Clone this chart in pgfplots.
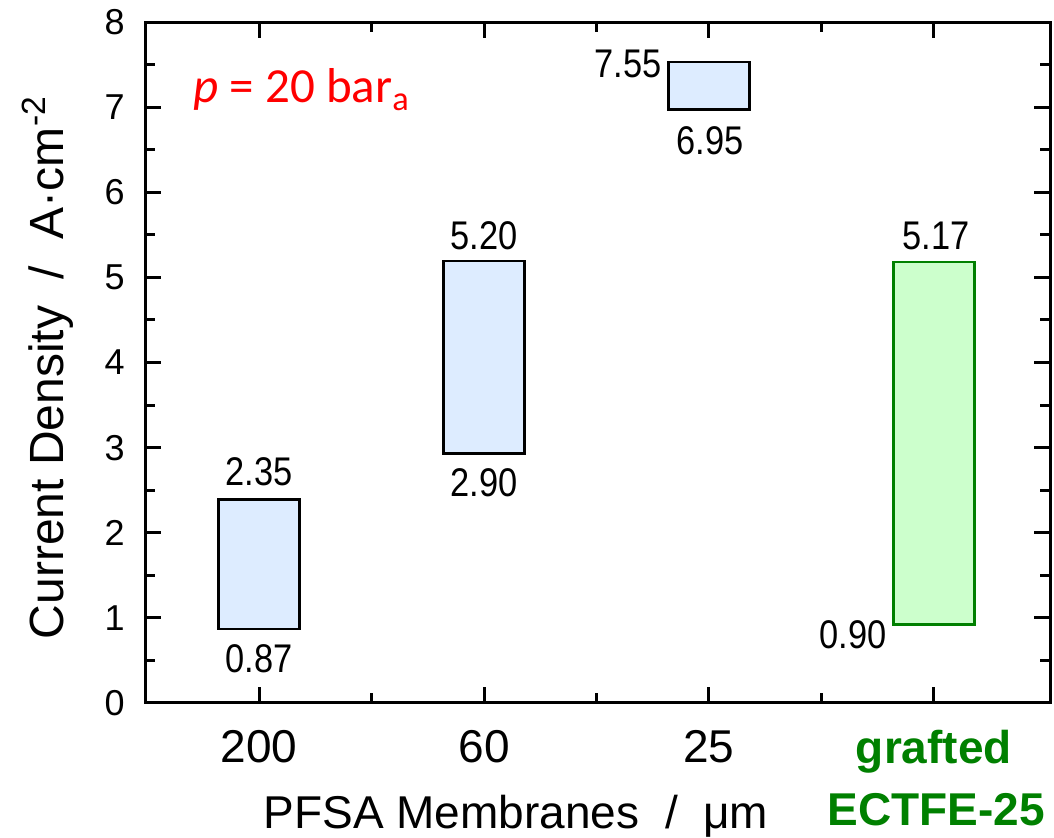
\documentclass[border=0pt]{standalone}
\usepackage{fontspec}
\setmainfont{Liberation Sans}
\newfontfamily\narrowfont[FakeStretch=0.86]{Liberation Sans}
\newfontfamily\calibri{Carlito}
\usepackage{pgfplots}
\pgfplotsset{compat=1.18}
\definecolor{barblue}{RGB}{221,236,255}
\definecolor{bargreen}{RGB}{204,255,204}
\definecolor{dgreen}{RGB}{0,128,0}
\tikzset{lbl/.style={font=\narrowfont\fontsize{20}{20}\selectfont, inner sep=0pt}}
\begin{document}
\begin{tikzpicture}
\begin{axis}[
  at={(72.5pt,67.5pt)}, anchor=south west,
  width=452.5pt, height=340.5pt, scale only axis,
  xmin=-0.507, xmax=3.516, ymin=0, ymax=8,
  xtick={0,1,2,3}, xticklabels={200,60,25,{}},
  minor xtick={0.5,1.5,2.5},
  ytick={0,1,...,8}, minor ytick={0.5,1.5,...,7.5},
  tick align=inside,
  major tick length=8pt, minor tick length=5pt,
  every tick/.style={black, line width=1.5pt},
  axis line style={line width=1.5pt},
  xticklabel style={font=\fontsize{23}{23}\selectfont, anchor=base, yshift=-30pt},
  yticklabel style={font=\fontsize{18}{18}\selectfont, anchor=east, inner sep=0pt, xshift=-10pt},
  /pgf/number format/assume math mode=true,
  clip=false,
]
% floating bars: (x-0.18,low) .. (x+0.18,high)
\addplot[draw=black, fill=barblue, line width=1.2pt] coordinates {(-0.18,0.87) (0.18,0.87) (0.18,2.39) (-0.18,2.39)} -- cycle;
\addplot[draw=black, fill=barblue, line width=1.2pt] coordinates {(0.82,2.93) (1.18,2.93) (1.18,5.19) (0.82,5.19)} -- cycle;
\addplot[draw=black, fill=barblue, line width=1.2pt] coordinates {(1.82,6.97) (2.18,6.97) (2.18,7.53) (1.82,7.53)} -- cycle;
\addplot[draw=dgreen, fill=bargreen, line width=1.2pt] coordinates {(2.82,0.92) (3.18,0.92) (3.18,5.18) (2.82,5.18)} -- cycle;

\node[lbl, anchor=base] at (axis cs:0,2.55) {2.35};
\node[lbl, anchor=base] at (axis cs:0,0.353) {0.87};
\node[lbl, anchor=base] at (axis cs:1,5.33) {5.20};
\node[lbl, anchor=base] at (axis cs:1,2.43) {2.90};
\node[lbl, anchor=base east] at (axis cs:1.791,7.35) {7.55};
\node[lbl, anchor=base] at (axis cs:2.005,6.44) {6.95};
\node[lbl, anchor=base] at (axis cs:3.01,5.33) {5.17};
\node[lbl, anchor=base east] at (axis cs:2.791,0.635) {0.90};

\node[anchor=base west, inner sep=0pt, text=red, font=\calibri\fontsize{24.5}{24.5}\selectfont] at (axis cs:-0.293,7.05) {\textit{p} = 20 bar\textsubscript{a}};

\node[rotate=90, anchor=base, inner sep=0pt, font=\fontsize{24}{24}\selectfont] at (axis cs:-0.871,3.94) {Current Density\ \ /\ \ A·cm\textsuperscript{-2}};
\node[anchor=base, inner sep=0pt, font=\fontsize{23}{23}\selectfont] at (axis cs:1.142,-1.469) {PFSA Membranes\ \ /\ \ μm};
\node[anchor=base, inner sep=0pt, text=dgreen, font=\bfseries\fontsize{23}{23}\selectfont] at (axis cs:3.0,-0.705) {grafted};
\node[anchor=base, inner sep=0pt, text=dgreen, font=\bfseries\fontsize{23}{23}\selectfont] at (axis cs:3.01,-1.434) {ECTFE-25};
\end{axis}
\pgfresetboundingbox
\path[use as bounding box] (0,0) rectangle (527pt,419pt);
\end{tikzpicture}
\end{document}
